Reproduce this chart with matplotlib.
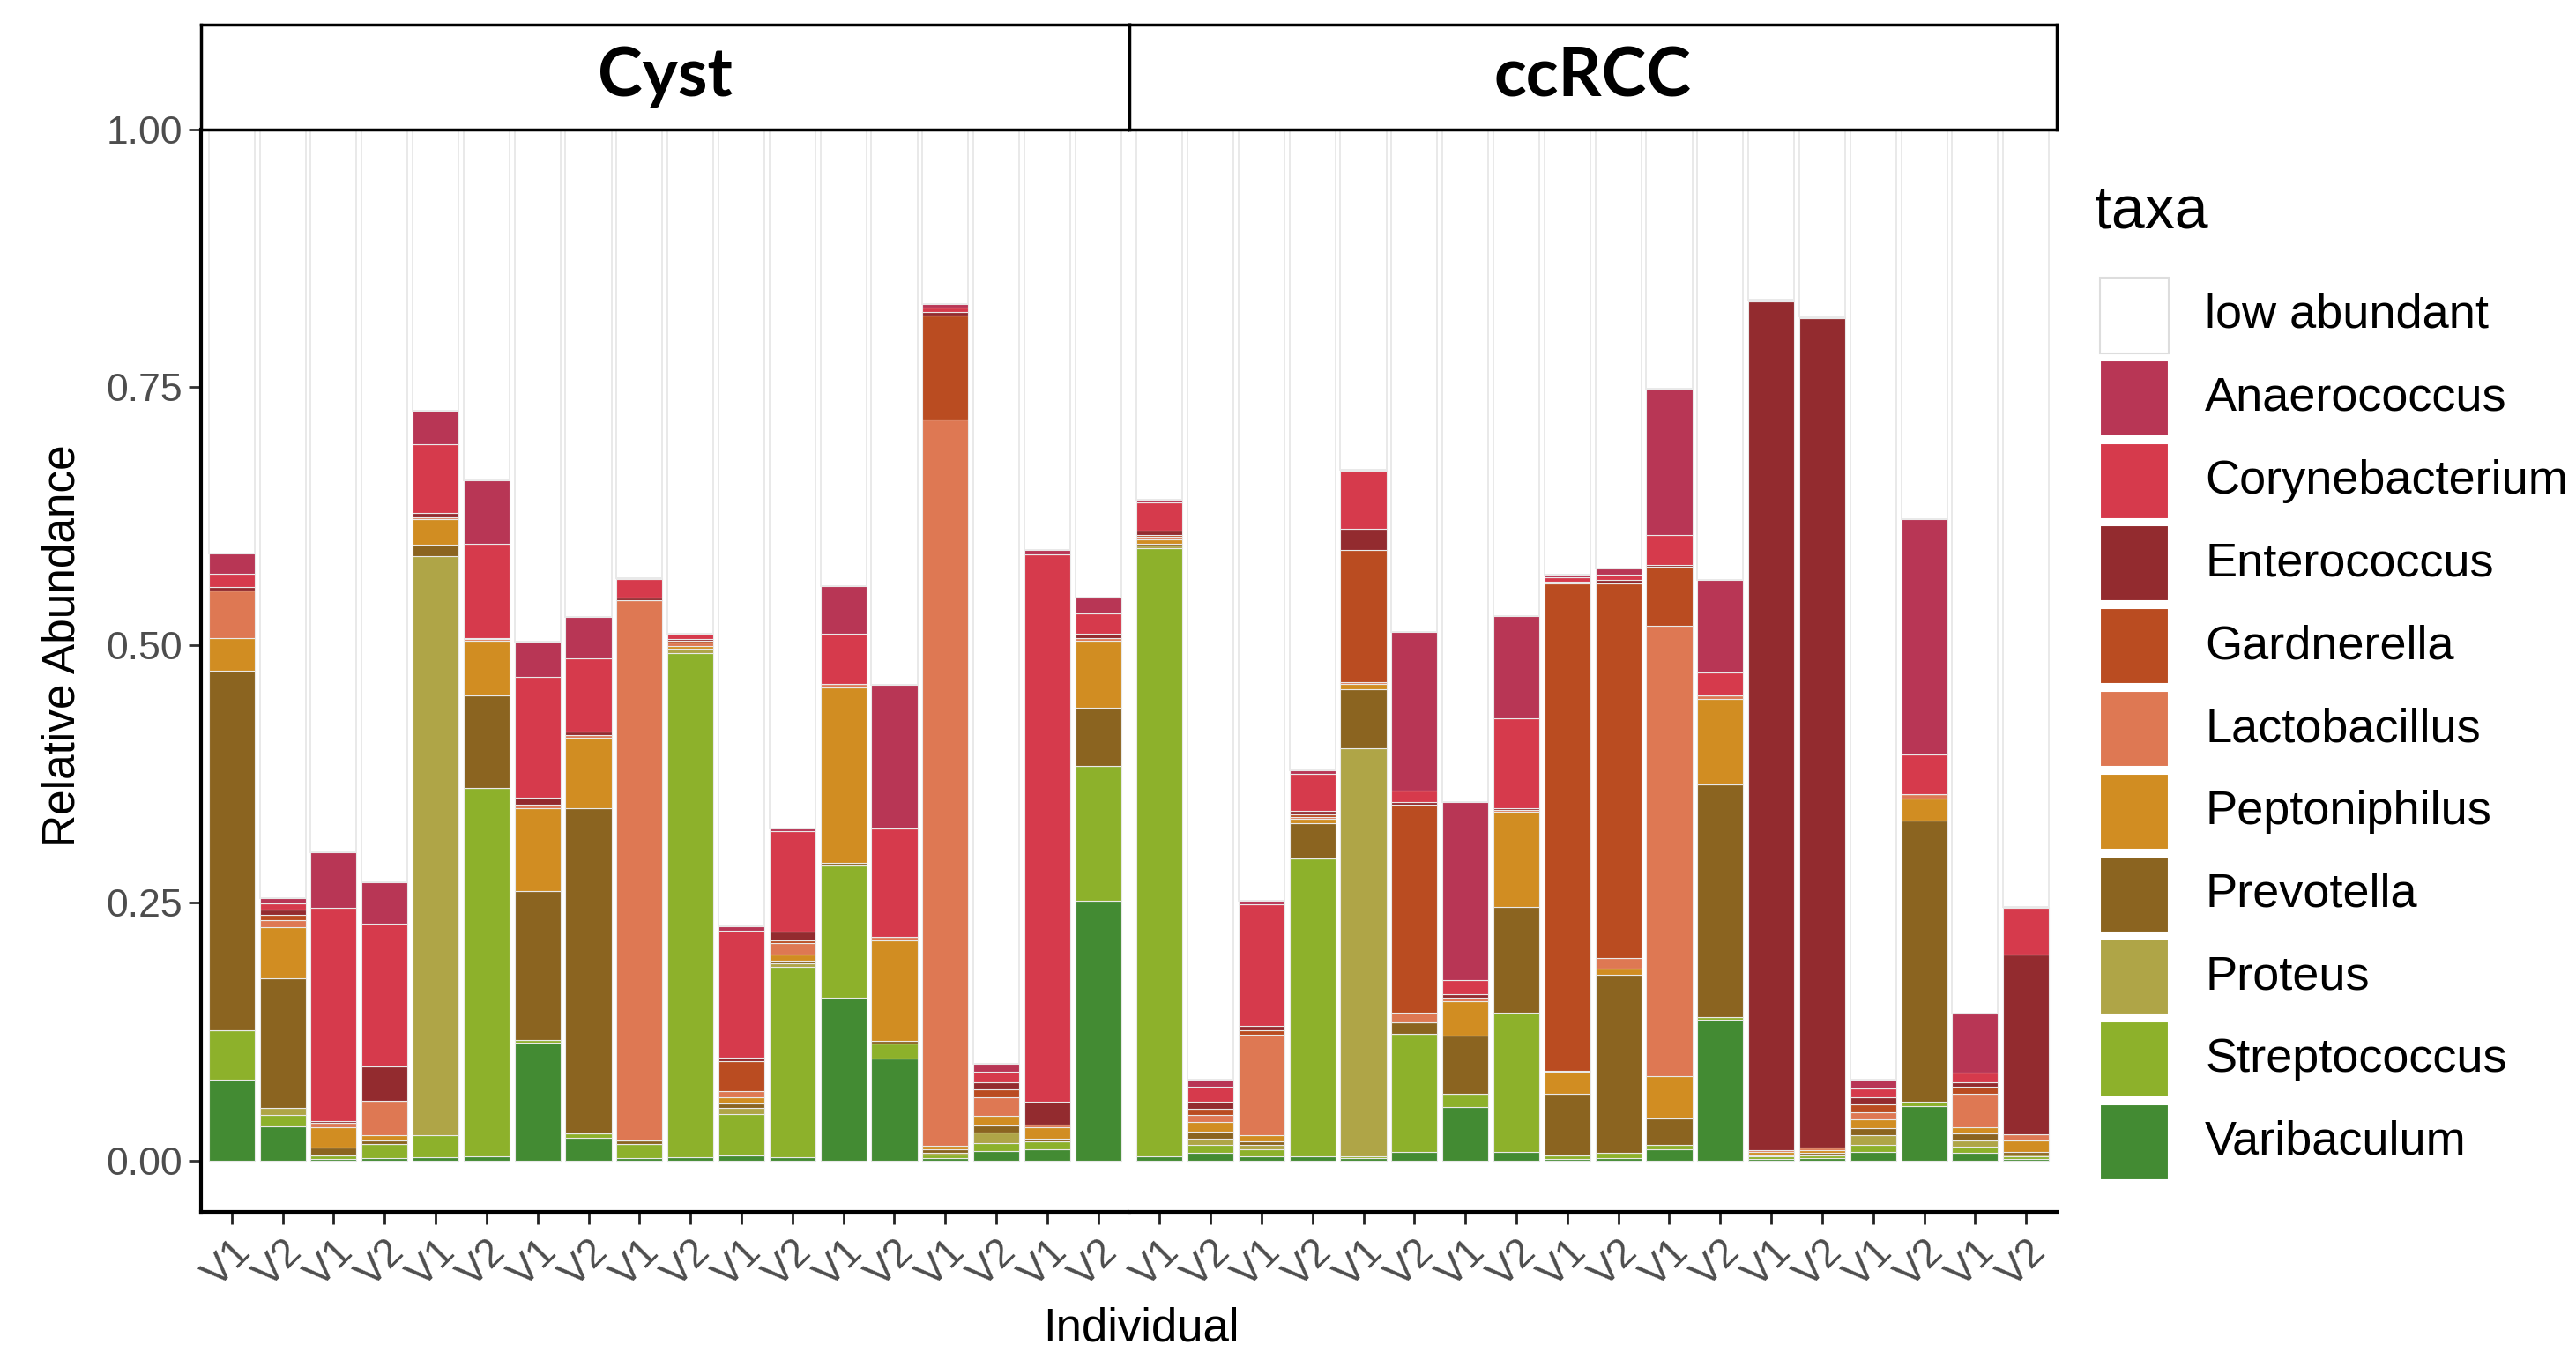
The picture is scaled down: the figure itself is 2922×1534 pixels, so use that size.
import numpy as np
import matplotlib
matplotlib.use("Agg")
import matplotlib.pyplot as plt
from matplotlib.patches import Rectangle
from matplotlib.transforms import ScaledTranslation

plt.rcParams['font.family'] = ['Liberation Sans', 'DejaVu Sans']

groups = ["Cyst", "ccRCC"]
visits = ["V1", "V2"] * 9

taxa = ["low abundant", "Anaerococcus", "Corynebacterium", "Enterococcus", "Gardnerella",
        "Lactobacillus", "Peptoniphilus", "Prevotella", "Proteus", "Streptococcus", "Varibaculum"]
colors = ["#ffffff", "#b83655", "#d63a4c", "#932b2f", "#ba4c21",
          "#de7853", "#d18d22", "#8b6420", "#afa547", "#8db12b", "#438b33"]

# first 18 values = Cyst, last 18 = ccRCC
varibaculum = [.078, .033, .001, .002, .003, .004, .114, .022, .002, .003, .005, .003, .158, .099, .002, .009, .011, .252,
               .004, .007, .004, .004, .002, .008, .052, .008, .001, .002, .011, .136, .001, .002, .008, .053, .007, .001]
streptococcus = [.048, .011, .004, .014, .021, .357, .003, .004, .014, .489, .040, .185, .128, .014, .004, .008, .007, .131,
                 .590, .008, .007, .289, .002, .115, .013, .135, .004, .005, .004, .003, .003, .003, .007, .004, .006, .003]
proteus = [0, .007, 0, 0, .562, 0, 0, 0, 0, .004, .006, .003, 0, 0, .001, .010, 0, 0,
           .002, .006, .004, 0, .396, 0, 0, 0, 0, 0, 0, 0, .001, .001, .009, 0, .006, .002]
prevotella = [.349, .126, .007, .003, .011, .090, .144, .316, .003, 0, .004, .003, .003, .003, .004, .007, .003, .056,
              .002, .007, .003, .034, .057, .011, .056, .103, .060, .173, .026, .226, .001, .001, .007, .273, .007, .002]
peptoniphilus = [.032, .049, .020, .005, .025, .053, .081, .068, 0, .003, .006, .006, .170, .097, .003, .009, .011, .065,
                 .004, .009, .006, .004, .005, 0, .033, .092, .021, .006, .041, .083, .002, .003, .009, .021, .006, .011]
lactobacillus = [.046, .007, .004, .034, .002, .002, .003, .003, .524, .003, .006, .011, .003, .004, .705, .018, .003, .003,
                 .003, .007, .098, .002, .002, .009, .004, .002, .001, .010, .437, .003, .002, .002, .007, .004, .033, .006]
gardnerella = [0, .005, 0, 0, 0, 0, 0, 0, 0, .002, .029, .002, 0, 0, .101, .008, 0, 0,
               .002, .006, .004, .003, .128, .202, 0, 0, .473, .364, .057, 0, 0, 0, .007, 0, .006, 0]
enterococcus = [.003, .005, .002, .033, .004, .001, .007, .003, .003, .002, .004, .009, 0, 0, .003, .007, .022, .004,
                .004, .007, .004, .003, .021, .003, .003, .002, .001, .003, .002, 0, .823, .805, .007, 0, .005, .175]
corynebacterium = [.013, .006, .207, .139, .067, .091, .117, .071, .018, .005, .123, .097, .049, .105, .004, .010, .531, .020,
                   .027, .014, .118, .036, .056, .011, .014, .087, .005, .005, .029, .022, .001, .001, .009, .039, .009, .045]
anaerococcus = [.020, .005, .054, .040, .032, .062, .034, .040, .001, 0, .004, .003, .046, .139, .004, .008, .004, .015,
                .003, .007, .004, .003, .001, .154, .173, .099, .002, .006, .142, .090, .001, .001, .008, .228, .057, .001]

# stacking order from the bottom up
stack = [varibaculum, streptococcus, proteus, prevotella, peptoniphilus, lactobacillus,
         gardnerella, enterococcus, corynebacterium, anaerococcus]
stack_colors = colors[1:][::-1]

W, H = 2922, 1534
fig = plt.figure(figsize=(W / 100, H / 100), dpi=100)

left, right, top, bottom = 228, 2333, 147, 1375
pw = (right - left) / 2
n = 18
edge = "#e9e9e9"

for g, name in enumerate(groups):
    ax = fig.add_axes([(left + g * pw) / W, 1 - bottom / H, pw / W, (bottom - top) / H])
    x = np.arange(n)
    base = np.zeros(n)
    for vals, col in zip(stack, stack_colors):
        v = np.array(vals[g * n:(g + 1) * n])
        ax.bar(x, v, width=0.9, bottom=base, color=col, edgecolor=edge, linewidth=0.8)
        base += v
    ax.bar(x, 1 - base, width=0.9, bottom=base, color="white", edgecolor=edge, linewidth=1.4)

    ax.set_xlim(-0.6, n - 0.4)
    ax.set_ylim(-0.05, 1.0)
    ax.spines['top'].set_visible(False)
    ax.spines['right'].set_visible(False)
    ax.spines['bottom'].set_linewidth(3)
    ax.spines['left'].set_linewidth(3)
    ax.set_xticks(x)
    ax.set_xticklabels(visits, rotation=45, ha='right', va='top', rotation_mode='anchor',
                       fontsize=33, color='#4d4d4d')
    for lab in ax.get_xticklabels():
        lab.set_transform(lab.get_transform() + ScaledTranslation(0.14, 0, fig.dpi_scale_trans))
    ax.tick_params(axis='x', length=10, width=2, color='#222222', pad=7)
    if g == 0:
        ax.set_yticks([0, 0.25, 0.5, 0.75, 1.0])
        ax.set_yticklabels(["0.00", "0.25", "0.50", "0.75", "1.00"], fontsize=32, color='#4d4d4d')
        ax.tick_params(axis='y', length=10, width=2, color='#333333', pad=5)
    else:
        ax.spines['left'].set_visible(False)
        ax.tick_params(axis='y', left=False, labelleft=False)

    # facet strip
    sx = fig.add_axes([(left + g * pw) / W, 1 - top / H, pw / W, (top - 28) / H])
    sx.set_xticks([])
    sx.set_yticks([])
    for s in sx.spines.values():
        s.set_linewidth(2.5)
    sx.text(0.5, 0.5, name, ha='center', va='center', fontsize=55, fontweight='bold',
            family=['Lato', 'DejaVu Sans'], transform=sx.transAxes)

fig.text(71 / W, 1 - 733 / H, "Relative Abundance", rotation=90, ha='center', va='center', fontsize=37)
fig.text(1294 / W, 1 - 1508 / H, "Individual", ha='center', va='center', fontsize=38)

# legend
fig.text(2376 / W, 1 - 242 / H, "taxa", ha='left', va='center', fontsize=49)
for i, (t, c) in enumerate(zip(taxa, colors)):
    yc = 358 + i * 93.8
    fig.add_artist(Rectangle((2382 / W, 1 - (yc + 43) / H), 78 / W, 86 / H, transform=fig.transFigure,
                             facecolor=c, edgecolor='#dddddd' if i == 0 else 'white', linewidth=1.5))
    fig.text(2501 / W, 1 - yc / H, t, ha='left', va='center', fontsize=39)

fig.savefig("out.png", dpi=100)
